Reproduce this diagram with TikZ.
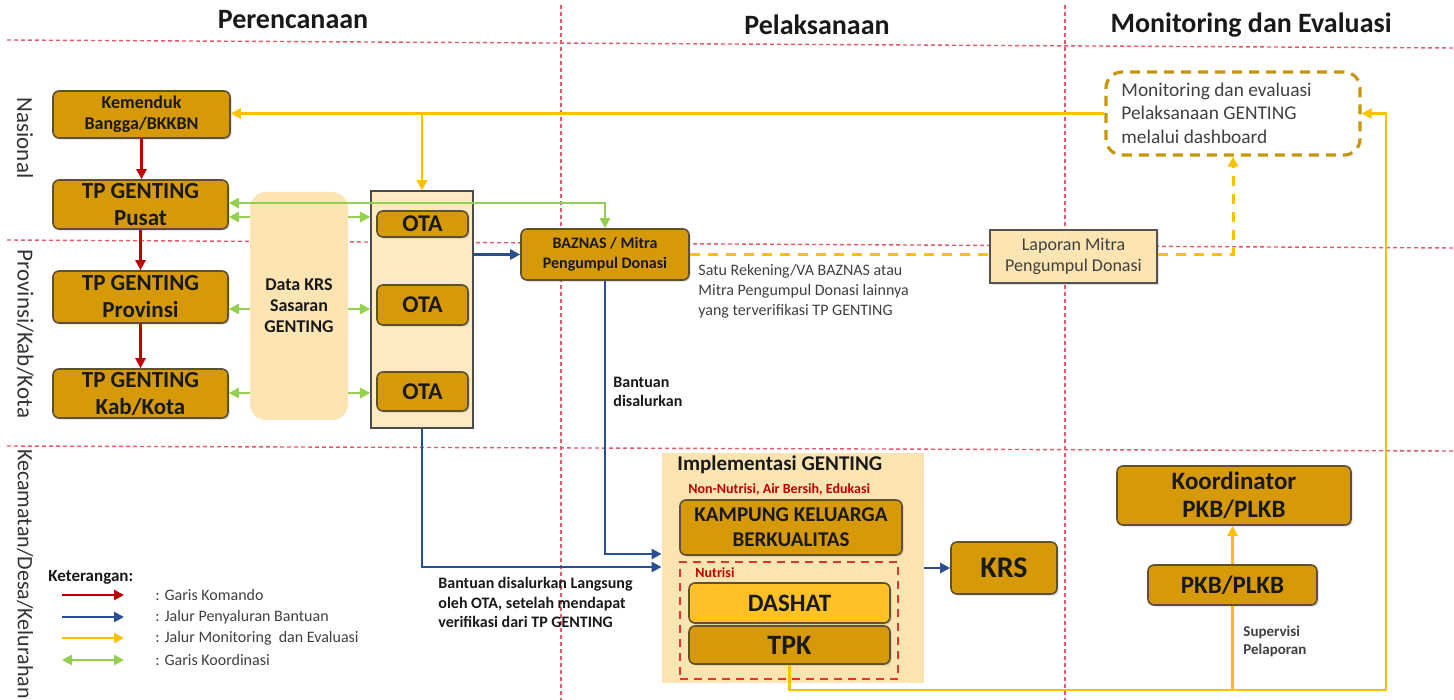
\documentclass[tikz,border=0pt]{standalone}
\usepackage{fontspec}
\setmainfont{Carlito}
\usetikzlibrary{arrows.meta,shadows,backgrounds,calc}
\definecolor{org}{RGB}{214,154,8}
\definecolor{bord}{RGB}{95,80,50}
\definecolor{cream}{RGB}{252,229,178}
\definecolor{creamb}{RGB}{253,234,192}
\definecolor{implc}{RGB}{252,228,176}
\definecolor{dashc}{RGB}{255,193,37}
\definecolor{yel}{RGB}{255,192,0}
\definecolor{grn}{RGB}{146,208,80}
\definecolor{blu}{RGB}{40,80,145}
\definecolor{redc}{RGB}{192,0,0}
\definecolor{gridc}{RGB}{225,90,110}
\definecolor{gold}{RGB}{200,150,10}
\definecolor{txt}{RGB}{25,25,25}
\definecolor{gtxt}{RGB}{64,64,64}
\definecolor{nutr}{RGB}{230,50,50}
\newcommand\fz[2]{\fontsize{#1}{#2}\selectfont}
\tikzset{
  obox/.style={draw=bord, fill=org, line width=0.8pt, rounded corners=3pt, inner sep=0pt,
    align=center, text=txt, drop shadow={shadow xshift=0.8pt, shadow yshift=-0.8pt, opacity=0.3}},
  gridl/.style={draw=gridc, line width=0.7pt, dash pattern=on 2pt off 1.5pt},
  tip/.tip={Triangle[length=5pt,width=5pt]},
  redarr/.style={draw=redc, line width=1.3pt, -tip},
  barr/.style={draw=blu, line width=1.3pt, -tip},
  yline/.style={draw=yel, line width=1.3pt},
  yarr/.style={yline, -tip},
  garr/.style={draw=grn, line width=1.3pt, tip-tip},
  ydash/.style={draw=yel, line width=1.5pt, dash pattern=on 5pt off 4pt},
  lbl/.style={inner sep=0pt, align=left},
}
\begin{document}
\begin{tikzpicture}[x=0.5pt, y=-0.5pt]
\useasboundingbox (0,0) rectangle (1454,700);
\begin{scope}[on background layer]
  \fill[white] (0,0) rectangle (1454,700);
  \draw[gridl] (7,40) -- (1454,48);
  \draw[gridl] (7,240) -- (1454,248);
  \draw[gridl] (7,446) -- (1454,451);
  \draw[gridl] (561,5) -- (561,700);
  \draw[gridl] (1065,5) -- (1065,700);
\end{scope}

% titles
\node[anchor=base, font=\fz{14}{16}\bfseries, text=txt] (t1) at (293,29) {Perencanaan};
\node[anchor=base, font=\fz{14}{16}\bfseries, text=txt] (t2) at (817,35) {Pelaksanaan};
\node[anchor=base, font=\fz{14}{16}\bfseries, text=txt] (t3) at (1251,33) {Monitoring dan Evaluasi};

% row labels
\node[rotate=-90, font=\fz{11.5}{13}, text=gtxt!80!black] (rnas) at (25,138) {Nasional};
\node[rotate=-90, font=\fz{11.5}{13}, text=gtxt!80!black] (rprov) at (25,334) {Provinsi/Kab/Kota};
\node[rotate=-90, font=\fz{11}{13}, text=gtxt!80!black] (rkec) at (25,574) {Kecamatan/Desa/Kelurahan};

% left column
\node[obox, minimum width=88.5pt, minimum height=23.5pt, font=\fz{9}{10.5}\bfseries] (kem) at (141.5,114.5) {Kemenduk\\Bangga/BKKBN};
\node[obox, minimum width=87.5pt, minimum height=24.5pt, font=\fz{11.5}{13.5}\bfseries] (pus) at (140.5,204.5) {TP GENTING\\Pusat};
\node[obox, minimum width=87.5pt, minimum height=26pt, font=\fz{11.5}{13.5}\bfseries] (prov) at (140.5,297) {TP GENTING\\Provinsi};
\node[obox, minimum width=87.5pt, minimum height=24.5pt, font=\fz{11.5}{13.5}\bfseries] (kab) at (140.5,393.5) {TP GENTING\\Kab/Kota};

\node[fill=cream, rounded corners=8pt, minimum width=49pt, minimum height=114pt, inner sep=0pt,
  font=\fz{9}{10.5}\bfseries, align=center, text=txt] (kdata) at (299,306) {Data KRS\\Sasaran\\GENTING};

\node[draw=gray!60!black, fill=creamb, line width=0.8pt, minimum width=51pt, minimum height=118.5pt, inner sep=0pt] (otab) at (422,309.5) {};
\node[obox, minimum width=45.5pt, minimum height=13pt, font=\fz{12}{14}\bfseries] (ota1) at (422.5,224) {OTA};
\node[obox, minimum width=45.5pt, minimum height=20pt, font=\fz{12}{14}\bfseries] (ota2) at (422.5,305) {OTA};
\node[obox, minimum width=45.5pt, minimum height=19.5pt, font=\fz{12}{14}\bfseries] (ota3) at (422.5,391.5) {OTA};

% middle
\node[obox, minimum width=84pt, minimum height=25.5pt, font=\fz{8}{10}\bfseries] (baz) at (605,254.5) {BAZNAS / Mitra\\Pengumpul Donasi};
\node[lbl, anchor=north west, font=\fz{8}{10}, text=gtxt] (sre) at (698,264) {Satu Rekening/VA BAZNAS atau\\Mitra Pengumpul Donasi lainnya\\yang terverifikasi TP GENTING};
\node[lbl, anchor=north west, font=\fz{8}{9.5}\bfseries, text=txt] (bds) at (613,377) {Bantuan\\disalurkan};
\node[lbl, anchor=north west, font=\fz{8}{9.8}\bfseries, text=txt] (bl) at (438,577) {Bantuan disalurkan Langsung\\oleh OTA, setelah mendapat\\verifikasi dari TP GENTING};

\node[draw=gray!65!black, fill=cream, line width=0.8pt, minimum width=83.5pt, minimum height=26.5pt, inner sep=0pt,
  font=\fz{9}{10.5}, align=center, text=gtxt, drop shadow={shadow xshift=0.8pt, shadow yshift=-0.8pt, opacity=0.25}] (lap) at (1073.5,256.5) {Laporan Mitra\\Pengumpul Donasi};

\node[draw=gold, line width=1.6pt, dash pattern=on 5pt off 3.5pt, rounded corners=8pt, minimum width=127pt, minimum height=41.5pt, inner sep=0pt] (mon) at (1233,113.5) {};
\node[lbl, anchor=west, font=\fz{9.7}{11.8}, text=gtxt] (montxt) at (1121,113) {Monitoring dan evaluasi\\Pelaksanaan GENTING\\melalui dashboard};

% implementation
\node[fill=implc, minimum width=131pt, minimum height=115pt, inner sep=0pt] (impl) at (793,568) {};
\node[lbl, anchor=west, font=\fz{10.5}{12}\bfseries, text=txt] (implt) at (677,465) {Implementasi GENTING};
\node[lbl, anchor=west, font=\fz{7}{8}\bfseries, text=redc] (nonn) at (688,490) {Non-Nutrisi, Air Bersih, Edukasi};
\node[obox, minimum width=111pt, minimum height=27.5pt, font=\fz{10.5}{12.5}\bfseries] (kkb) at (791,527.5) {KAMPUNG KELUARGA\\BERKUALITAS};
\node[draw=nutr, line width=1.3pt, dash pattern=on 4pt off 3pt, minimum width=109pt, minimum height=58.5pt, inner sep=0pt] (nutb) at (789,620.5) {};
\node[lbl, anchor=west, font=\fz{7}{8}\bfseries, text=redc] (nutl) at (695,573) {Nutrisi};
\node[obox, fill=dashc, minimum width=100.5pt, minimum height=20pt, font=\fz{12.5}{14}\bfseries] (dsh) at (789.5,603) {DASHAT};
\node[obox, minimum width=100.5pt, minimum height=19pt, font=\fz{14}{16}\bfseries] (tpk) at (789.5,645) {TPK};
\node[obox, minimum width=53pt, minimum height=26pt, font=\fz{15}{17}\bfseries] (krs) at (1004,568) {KRS};

% right
\node[obox, minimum width=117pt, minimum height=29.5pt, font=\fz{12.5}{14}\bfseries] (koo) at (1234,495.5) {Koordinator\\PKB/PLKB};
\node[obox, minimum width=84.5pt, minimum height=20pt, font=\fz{12.5}{14}\bfseries] (pkb) at (1232.5,585) {PKB/PLKB};
\node[lbl, anchor=north west, font=\fz{7.5}{9}\bfseries, text=gtxt] (sup) at (1243,626) {Supervisi\\Pelaporan};

% legend
\node[lbl, anchor=west, font=\fz{8.5}{10}\bfseries, text=txt] (ket) at (48,577) {Keterangan:};
\coordinate (l1a) at (62,595); \coordinate (l1b) at (124,595);
\coordinate (l2a) at (62,617); \coordinate (l2b) at (124,617);
\coordinate (l3a) at (62,638); \coordinate (l3b) at (124,638);
\coordinate (l4a) at (62,660); \coordinate (l4b) at (124,660);
\draw[redarr] (l1a) -- (l1b);
\draw[barr] (l2a) -- (l2b);
\draw[yarr] (l3a) -- (l3b);
\draw[garr] (l4a) -- (l4b);
\node[lbl, anchor=west, font=\fz{8}{10}, text=gtxt] (lt1) at (155,595) {: Garis Komando};
\node[lbl, anchor=west, font=\fz{8}{10}, text=gtxt] (lt2) at (155,617) {: Jalur Penyaluran Bantuan};
\node[lbl, anchor=west, font=\fz{8}{10}, text=gtxt] (lt3) at (155,638) {: Jalur Monitoring\ \ dan Evaluasi};
\node[lbl, anchor=west, font=\fz{8}{10}, text=gtxt] (lt4) at (155,660) {: Garis Koordinasi};

% command lines
\draw[redarr] (kem.south) -- (kem.south |- pus.north);
\draw[redarr] (pus.south) -- (pus.south |- prov.north);
\draw[redarr] (prov.south) -- (prov.south |- kab.north);

% coordination lines (behind data box)
\begin{scope}[on background layer]
  \draw[garr] (pus.east |- 0,217) -- (otab.west |- 0,217);
  \draw[garr] (prov.east |- 0,309) -- (otab.west |- 0,309);
  \draw[garr] (kab.east |- 0,393) -- (otab.west |- 0,393);
\end{scope}
\coordinate (gu) at (228,203);
\draw[garr] (pus.east |- gu) -| (baz.north);

% monitoring lines
\coordinate (ybr) at (422,113.5);
\draw[yarr] (mon.west) -- (kem.east |- mon.west);
\draw[yarr] (ybr) -- (otab.north);
\draw[ydash] (baz.east) -- (lap.west |- baz.east);
\draw[ydash, -{Triangle[length=5pt,width=5pt]}] (lap.east |- baz.east) -| (mon.south);
\coordinate (yc) at (1386,690);
\draw[yarr] (tpk.south) |- (yc) |- (mon.east);
\draw[yline] (pkb.south) -- (pkb.south |- yc);
\draw[yarr] (pkb.north) -- (pkb.north |- koo.south);

% aid lines
\draw[barr] (otab.east |- baz.west) -- (baz.west);
\draw[barr] (baz.south) |- (impl.west |- 0,554);
\draw[barr] (otab.south) |- (impl.west |- 0,567);
\draw[barr] (impl.east) -- (krs.west);
\end{tikzpicture}
\end{document}
